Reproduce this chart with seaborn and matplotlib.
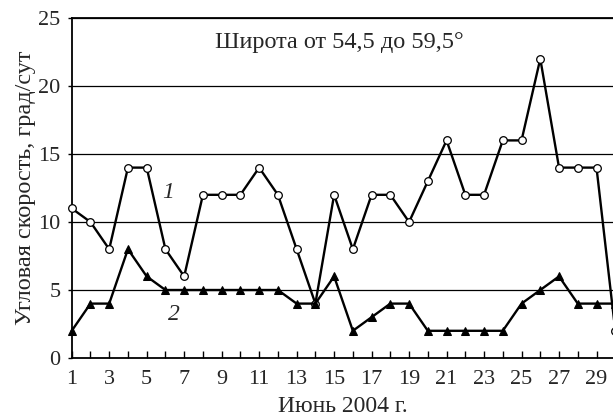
import matplotlib
matplotlib.use("Agg")
import matplotlib.pyplot as plt
import seaborn as sns
import pandas as pd
from matplotlib.ticker import MultipleLocator

days = list(range(1, 31))
series1 = [11, 10, 8, 14, 14, 8, 6, 12, 12, 12, 14, 12, 8, 4, 12,
           8, 12, 12, 10, 13, 16, 12, 12, 16, 16, 22, 14, 14, 14, 2]
series2 = [2, 4, 4, 8, 6, 5, 5, 5, 5, 5, 5, 5, 4, 4, 6,
           2, 3, 4, 4, 2, 2, 2, 2, 2, 4, 5, 6, 4, 4, 4]
xticklabels = [str(d) for d in range(1, 30, 2)]
yticks = [0, 5, 10, 15, 20, 25]

sns.set_theme(style="white")
plt.rcParams['font.family'] = ['Liberation Serif', 'DejaVu Serif']

fig = plt.figure(figsize=(6.13, 4.17), dpi=100)
ax = fig.add_axes([0.117, 0.1415, 0.883, 0.8153])

df = pd.DataFrame({"day": days, "s1": series1, "s2": series2})

for yv in yticks[1:]:
    ax.axhline(yv, color="black", lw=0.9, zorder=1)

sns.lineplot(data=df, x="day", y="s1", ax=ax, color="black", lw=1.7,
             marker="o", markersize=5.5, markerfacecolor="white",
             markeredgecolor="black", markeredgewidth=0.9, clip_on=False, zorder=3)
sns.lineplot(data=df, x="day", y="s2", ax=ax, color="black", lw=1.7,
             marker="^", markersize=6, markerfacecolor="black",
             markeredgecolor="black", clip_on=False, zorder=3)

ax.set_xlim(1, 29.88)
ax.set_ylim(0, 25)
ax.set_xticks(range(1, 30, 2))
ax.set_xticklabels(xticklabels)
ax.xaxis.set_minor_locator(MultipleLocator(1))
ax.set_yticks(yticks)
ax.tick_params(axis="x", which="both", direction="in", length=5, width=1,
               color="black", labelsize=16, pad=9, bottom=True)
ax.tick_params(axis="y", which="major", direction="out", length=3, width=1,
               color="black", labelsize=16, pad=5, left=True)

for s in ["left", "bottom", "top"]:
    ax.spines[s].set_visible(True)
    ax.spines[s].set_color("black")
    ax.spines[s].set_linewidth(1.3)
ax.spines["right"].set_visible(False)

ax.set_xlabel("Июнь 2004 г.", fontsize=17, labelpad=5)
ax.set_ylabel("Угловая скорость, град/сут", fontsize=17.5, labelpad=2)

ax.text(15.3, 23.2, "Широта от 54,5 до 59,5°", fontsize=17.5, ha="center", va="center")
ax.text(6.15, 12.2, "1", fontsize=17, style="italic", ha="center", va="center")
ax.text(6.45, 3.2, "2", fontsize=17, style="italic", ha="center", va="center")

fig.savefig("out.png", dpi=100)
